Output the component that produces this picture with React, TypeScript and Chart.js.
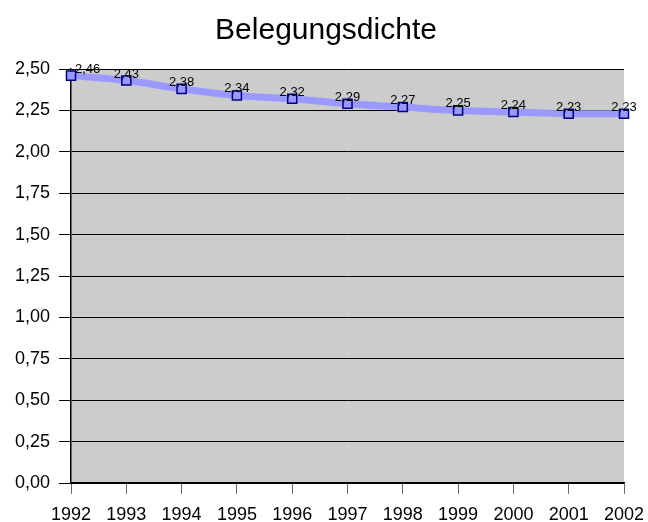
import React, { useEffect, useRef } from "react";
import { Chart, registerables } from "chart.js";

Chart.register(...registerables);

const years = ["1992", "1993", "1994", "1995", "1996", "1997", "1998", "1999", "2000", "2001", "2002"];
const density = [2.46, 2.43, 2.38, 2.34, 2.32, 2.29, 2.27, 2.25, 2.24, 2.23, 2.23];
const titleText = "Belegungsdichte";
const yMax = 2.5;
const yStep = 0.25;

const FONT = "'Liberation Sans', Arial, sans-serif";
const fmt = (v: number) => v.toFixed(2).replace(".", ",");

const bgPlugin = {
  id: "plotBg",
  beforeDraw(chart: any) {
    const { ctx, chartArea } = chart;
    ctx.save();
    ctx.fillStyle = "#cccccc";
    ctx.fillRect(chartArea.left, chartArea.top, chartArea.right - chartArea.left, chartArea.bottom - chartArea.top);
    ctx.restore();
  },
};

const titlePlugin = {
  id: "customTitle",
  afterDraw(chart: any) {
    const { ctx } = chart;
    ctx.save();
    ctx.font = "30px " + FONT;
    ctx.fillStyle = "#000000";
    ctx.textAlign = "center";
    ctx.textBaseline = "alphabetic";
    ctx.fillText(titleText, 326, 39);
    ctx.restore();
  },
};

const labelPlugin = {
  id: "valueLabels",
  afterDatasetsDraw(chart: any) {
    const { ctx } = chart;
    const meta = chart.getDatasetMeta(0);
    const data = chart.data.datasets[0].data as number[];
    ctx.save();
    ctx.font = "13px " + FONT;
    ctx.fillStyle = "#000000";
    ctx.textBaseline = "alphabetic";
    meta.data.forEach((pt: any, i: number) => {
      const text = fmt(data[i]);
      if (i === 0) {
        ctx.textAlign = "left";
        ctx.fillText(text, pt.x + 4, pt.y - 3);
      } else {
        ctx.textAlign = "center";
        ctx.fillText(text, pt.x, pt.y - 3);
      }
    });
    ctx.restore();
  },
};

export default function App() {
  const ref = useRef<HTMLCanvasElement>(null);
  useEffect(() => {
    if (!ref.current) return;
    const chart = new Chart(ref.current, {
      type: "line",
      data: {
        labels: years,
        datasets: [
          {
            data: density,
            borderColor: "#9999ff",
            borderWidth: 7,
            tension: 0.4,
            pointStyle: "rect",
            pointRadius: 6.4,
            pointBackgroundColor: "#9999ff",
            pointBorderColor: "#000080",
            pointBorderWidth: 1.5,
          },
        ],
      },
      options: {
        responsive: false,
        animation: false,
        layout: { padding: { left: 0, right: 24, top: 69, bottom: 0 } },
        plugins: {
          legend: { display: false },
          tooltip: { enabled: false },
          title: { display: false },
        },
        scales: {
          x: {
            offset: false,
            grid: { drawOnChartArea: false, drawTicks: true, tickLength: 11, color: "#666666", lineWidth: 1 },
            border: { color: "#000000", width: 1.5 },
            ticks: {
              color: "#000000",
              font: { family: FONT, size: 18 },
              padding: 10,
              maxRotation: 0,
              autoSkip: false,
            },
            afterFit(scale: any) {
              scale.height = 39;
              scale.paddingLeft = 0;
              scale.paddingRight = 0;
            },
          },
          y: {
            min: 0,
            max: yMax,
            grid: { color: "#000000", lineWidth: 1, tickLength: 12 },
            border: { color: "#000000", width: 1.5 },
            ticks: {
              stepSize: yStep,
              color: "#000000",
              font: { family: FONT, size: 18 },
              padding: 9,
              callback: (v: any) => fmt(Number(v)),
            },
            afterFit(scale: any) {
              scale.width = 71;
              scale.paddingTop = 0;
              scale.paddingBottom = 0;
            },
          },
        },
      },
      plugins: [bgPlugin, labelPlugin, titlePlugin],
    });
    return () => chart.destroy();
  }, []);
  return (
    <div style={{ position: "absolute", left: 0, top: 0, width: 648, height: 522, background: "#ffffff" }}>
      <canvas ref={ref} width={648} height={522} />
    </div>
  );
}
